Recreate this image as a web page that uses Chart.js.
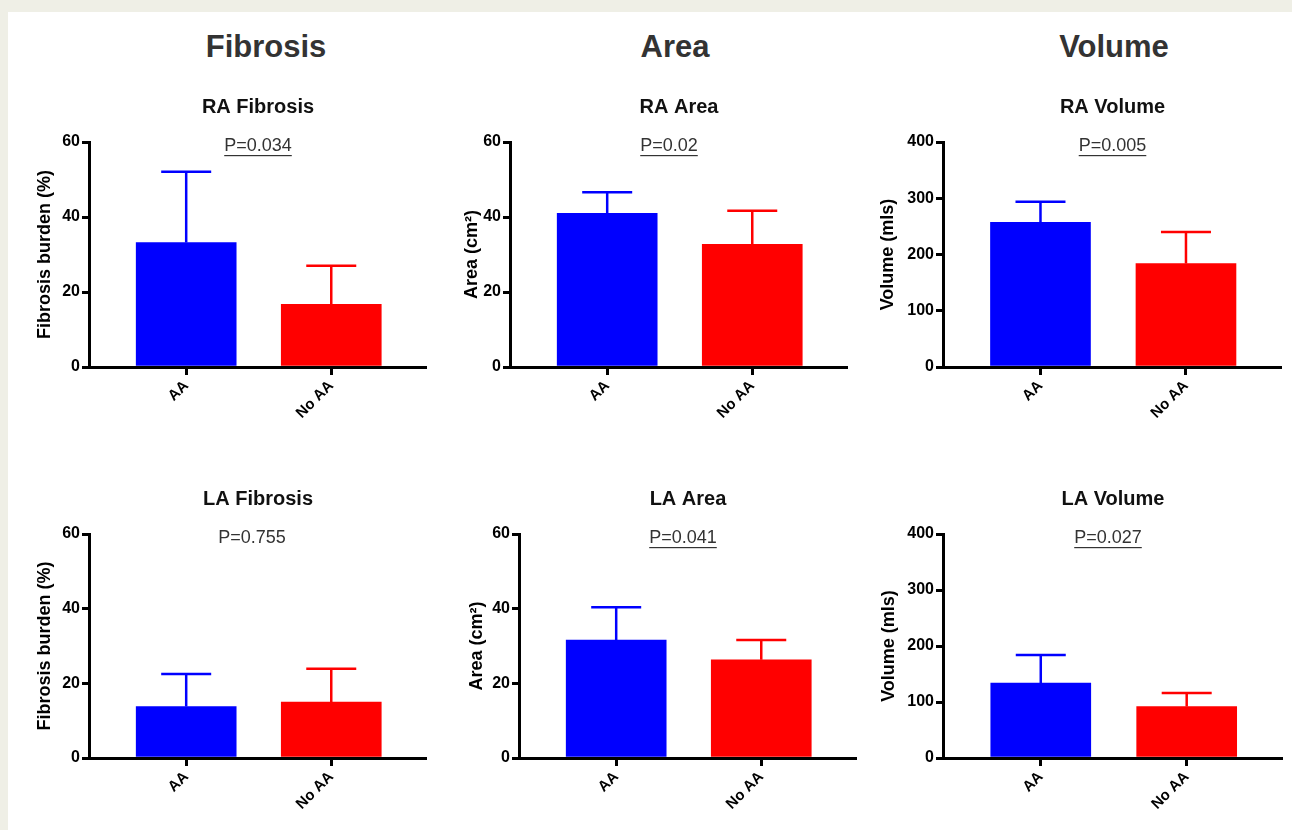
<!DOCTYPE html>
<html>
<head>
<meta charset="utf-8">
<script src="https://cdn.jsdelivr.net/npm/chart.js@4/dist/chart.umd.min.js"></script>
<style>
  body { margin: 0; width: 1292px; height: 830px; background: #efefe6; position: relative; overflow: hidden; font-family: "Liberation Sans", Arial, sans-serif; }
  .sheet { position: absolute; left: 8px; top: 12px; right: 0; bottom: 0; background: #fff; }
  .head { position: absolute; transform: translate(-50%, -50%); font-weight: bold; font-size: 31px; color: #333; white-space: nowrap; }
  canvas { position: absolute; }
</style>
</head>
<body>
<div class="sheet"></div>
<div class="head" style="left:266px; top:47px">Fibrosis</div>
<div class="head" style="left:675px; top:47px">Area</div>
<div class="head" style="left:1114px; top:47px">Volume</div>
<script>
// groups on the x axis
const groups = ["AA", "No AA"];

// means and upper SD
const raFibrosisMean = [33.2, 16.7];
const raFibrosisSD = [18.9, 10.3];
const raAreaMean = [41.0, 32.7];
const raAreaSD = [5.6, 9.0];
const raVolumeMean = [257, 184];
const raVolumeSD = [37, 56];
const laFibrosisMean = [13.8, 15.0];
const laFibrosisSD = [8.7, 8.9];
const laAreaMean = [31.6, 26.3];
const laAreaSD = [8.8, 5.3];
const laVolumeMean = [134, 92];
const laVolumeSD = [50, 24];

// p values per panel
const pValues = [0.034, 0.02, 0.005, 0.755, 0.041, 0.027];

// y tick labels
const fibrosisTicks = [0, 20, 40, 60];
const areaTicks = [0, 20, 40, 60];
const volumeTicks = [0, 100, 200, 300, 400];

const FONT = '"Liberation Sans", Arial, sans-serif';
const barColors = ["#0000ff", "#ff0000"];

// where each plot area sits on the page
const layout = [
  { left: 89, top: 142, w: 338, h: 225, titleX: 45, pDx: 0 },
  { left: 510, top: 142, w: 338, h: 225, titleX: 472, pDx: -10 },
  { left: 943, top: 142, w: 339, h: 225, titleX: 888, pDx: 0 },
  { left: 89, top: 534, w: 338, h: 224, titleX: 45, pDx: -6 },
  { left: 519, top: 534, w: 338, h: 224, titleX: 477, pDx: -5 },
  { left: 943, top: 534, w: 340, h: 224, titleX: 889, pDx: -5 },
];
const yAxisW = 85;
const topSpace = 110;
const bottomSpace = 70;

// upper error bars, drawn through the y scale
const errorBars = {
  id: "errorBars",
  afterDatasetsDraw(chart) {
    const ctx = chart.ctx;
    const y = chart.scales.y;
    const ds = chart.data.datasets[0];
    const meta = chart.getDatasetMeta(0);
    ctx.save();
    ctx.lineWidth = 2.5;
    meta.data.forEach((bar, i) => {
      const top = y.getPixelForValue(ds.data[i].y + ds.sd[i]);
      const half = bar.width / 4;
      ctx.strokeStyle = ds.backgroundColor[i];
      ctx.beginPath();
      ctx.moveTo(bar.x, bar.y);
      ctx.lineTo(bar.x, top);
      ctx.moveTo(bar.x - half, top);
      ctx.lineTo(bar.x + half, top);
      ctx.stroke();
    });
    ctx.restore();
  },
};

// panel title + p value above the plot area
const panelText = {
  id: "panelText",
  afterDraw(chart, args, opts) {
    const { ctx, chartArea } = chart;
    const cx = (chartArea.left + chartArea.right) / 2;
    ctx.save();
    ctx.textAlign = "center";
    ctx.textBaseline = "middle";
    ctx.fillStyle = "#111";
    ctx.font = "bold 20px " + FONT;
    ctx.fillText(opts.title, cx, chartArea.top - 35);
    ctx.fillStyle = "#333";
    ctx.font = "18px " + FONT;
    const text = "P=" + opts.p;
    const px = cx + opts.dx;
    const py = chartArea.top + 4;
    ctx.fillText(text, px, py);
    if (opts.p < 0.05) {
      const w = ctx.measureText(text).width;
      ctx.fillRect(px - w / 2, py + 9, w, 1.2);
    }
    ctx.restore();
  },
};

function makePanel(i, title, yTitle, mean, sd, ticks) {
  const L = layout[i];
  const canvas = document.createElement("canvas");
  canvas.width = yAxisW + L.w;
  canvas.height = topSpace + L.h + bottomSpace;
  canvas.style.left = L.left - yAxisW + "px";
  canvas.style.top = L.top - topSpace + "px";
  document.body.appendChild(canvas);

  new Chart(canvas, {
    type: "bar",
    data: {
      datasets: [
        {
          data: groups.map((g, k) => ({ x: k, y: mean[k] })),
          sd: sd,
          backgroundColor: barColors,
          borderWidth: 0,
          barThickness: 100,
        },
      ],
    },
    options: {
      responsive: false,
      animation: false,
      layout: { padding: { top: topSpace, left: 0, right: 0, bottom: 0 } },
      plugins: {
        legend: { display: false },
        tooltip: { enabled: false },
        panelText: { title: title, p: pValues[i], dx: L.pDx },
      },
      scales: {
        x: {
          type: "linear",
          offset: false,
          min: -0.67,
          max: 1.66,
          z: 1,
          afterBuildTicks: (s) => {
            s.ticks = groups.map((g, k) => ({ value: k }));
          },
          afterFit: (s) => {
            s.height = bottomSpace;
          },
          border: { display: true, color: "#000", width: 3 },
          grid: { offset: false, drawOnChartArea: false, drawTicks: true, tickLength: 8, lineWidth: 3, color: "#000" },
          ticks: {
            color: "#000",
            font: { family: FONT, size: 15, weight: "bold" },
            minRotation: 45,
            maxRotation: 45,
            padding: 2,
            callback: (v) => groups[v],
          },
        },
        y: {
          min: ticks[0],
          max: ticks[ticks.length - 1],
          z: 1,
          afterBuildTicks: (s) => {
            s.ticks = ticks.map((t) => ({ value: t }));
          },
          afterFit: (s) => {
            s.width = yAxisW;
          },
          border: { display: true, color: "#000", width: 3 },
          grid: { drawOnChartArea: false, drawTicks: true, tickLength: 7, lineWidth: 3, color: "#000" },
          ticks: {
            color: "#000",
            font: { family: FONT, size: 16, weight: "bold" },
            padding: 2,
          },
          title: {
            display: true,
            text: yTitle,
            color: "#000",
            font: { family: FONT, size: 18, weight: "bold" },
            padding: { top: L.titleX - (L.left - yAxisW) - 10.8, bottom: 0 },
          },
        },
      },
    },
    plugins: [errorBars, panelText],
  });
}

makePanel(0, "RA Fibrosis", "Fibrosis burden (%)", raFibrosisMean, raFibrosisSD, fibrosisTicks);
makePanel(1, "RA Area", "Area (cm\u00b2)", raAreaMean, raAreaSD, areaTicks);
makePanel(2, "RA Volume", "Volume (mls)", raVolumeMean, raVolumeSD, volumeTicks);
makePanel(3, "LA Fibrosis", "Fibrosis burden (%)", laFibrosisMean, laFibrosisSD, fibrosisTicks);
makePanel(4, "LA Area", "Area (cm\u00b2)", laAreaMean, laAreaSD, areaTicks);
makePanel(5, "LA Volume", "Volume (mls)", laVolumeMean, laVolumeSD, volumeTicks);
</script>
</body>
</html>
